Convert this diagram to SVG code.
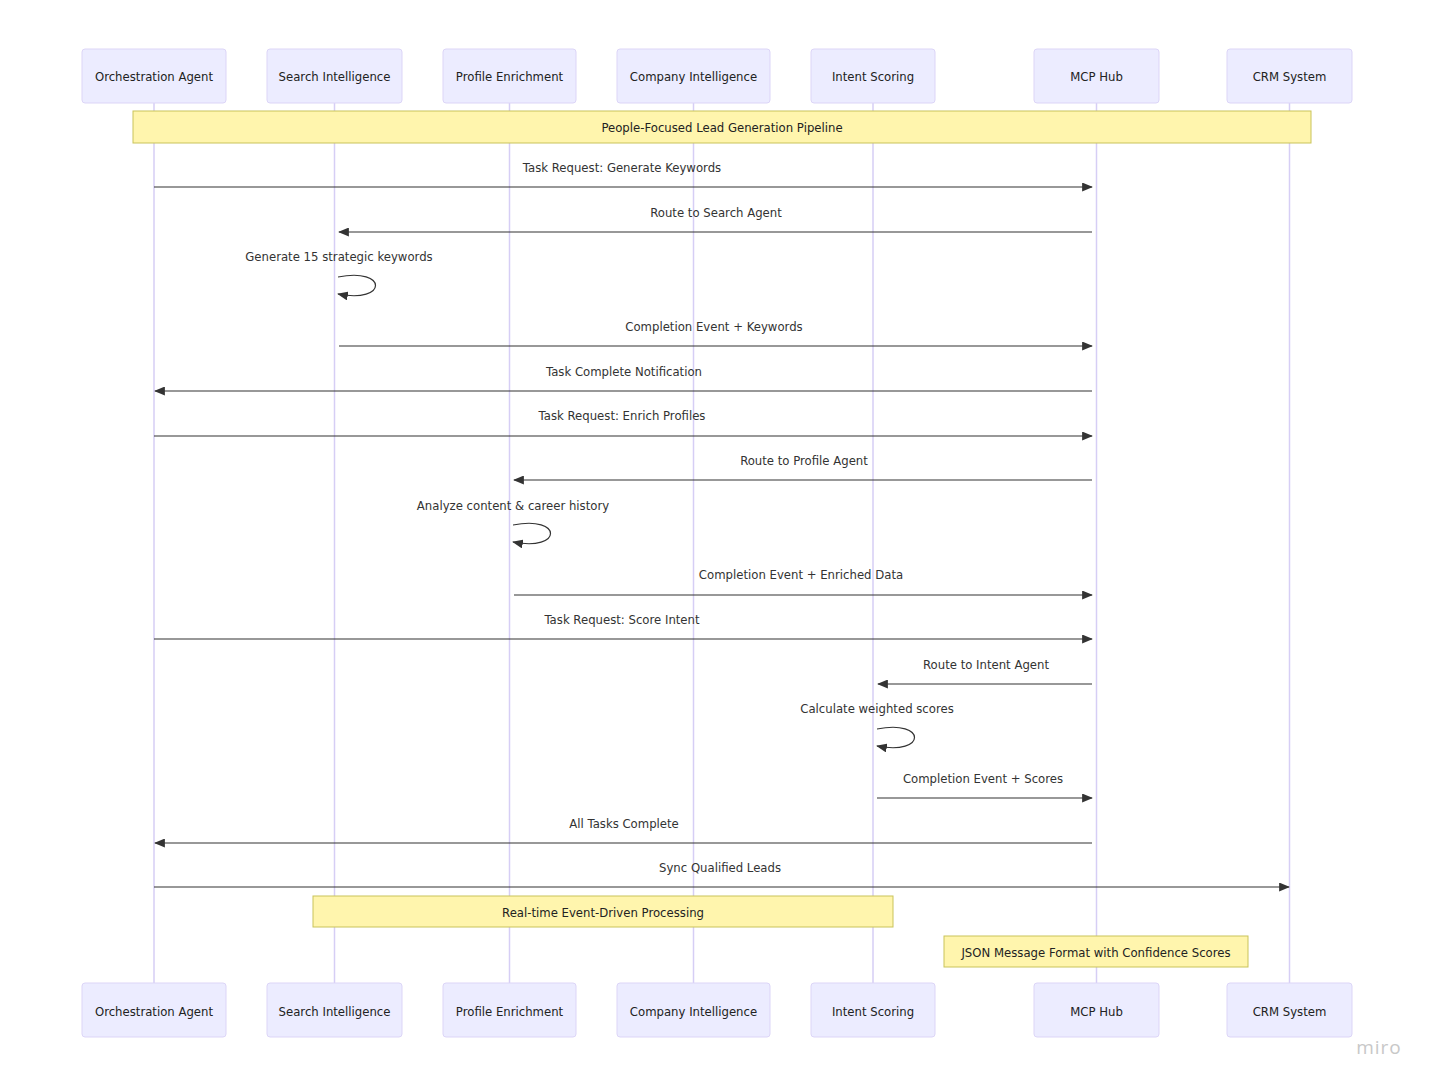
<svg xmlns="http://www.w3.org/2000/svg" width="1435" height="1088" viewBox="0 0 1435 1088">
<style>
.actor{fill:#ECECFF;stroke:#DCD5F7;stroke-width:1}
.life{stroke:#D6CEF5;stroke-width:1.5}
.note{fill:#FFF5AD;stroke:#C9C35A;stroke-width:1}
text{font-family:"DejaVu Sans",Verdana,sans-serif;font-size:11.7px;fill:#333;text-anchor:middle}
.at{fill:#222}
.msg{stroke:#333;stroke-width:1.2;fill:none}
</style>
<defs>
<marker id="ah" viewBox="0 0 12 10" refX="11" refY="5" markerWidth="11" markerHeight="9" markerUnits="userSpaceOnUse" orient="auto">
<path d="M0,0 L12,5 L0,10 z" fill="#333"/>
</marker>
</defs>
<rect width="1435" height="1088" fill="#fff"/>
<g id="lifelines">
<line class="life" x1="154" y1="103" x2="154" y2="983"/>
<line class="life" x1="334.5" y1="103" x2="334.5" y2="983"/>
<line class="life" x1="509.5" y1="103" x2="509.5" y2="983"/>
<line class="life" x1="693.5" y1="103" x2="693.5" y2="983"/>
<line class="life" x1="873" y1="103" x2="873" y2="983"/>
<line class="life" x1="1096.5" y1="103" x2="1096.5" y2="983"/>
<line class="life" x1="1289.5" y1="103" x2="1289.5" y2="983"/>
</g>
<g id="actor-orch"><rect class="actor" x="82" y="49" width="144" height="54" rx="3"/><text class="at" x="154" y="80.5">Orchestration Agent</text>
<rect class="actor" x="82" y="983" width="144" height="54" rx="3"/><text class="at" x="154" y="1015.5">Orchestration Agent</text></g>
<g id="actor-search"><rect class="actor" x="267" y="49" width="135" height="54" rx="3"/><text class="at" x="334.5" y="80.5">Search Intelligence</text>
<rect class="actor" x="267" y="983" width="135" height="54" rx="3"/><text class="at" x="334.5" y="1015.5">Search Intelligence</text></g>
<g id="actor-profile"><rect class="actor" x="443" y="49" width="133" height="54" rx="3"/><text class="at" x="509.5" y="80.5">Profile Enrichment</text>
<rect class="actor" x="443" y="983" width="133" height="54" rx="3"/><text class="at" x="509.5" y="1015.5">Profile Enrichment</text></g>
<g id="actor-company"><rect class="actor" x="617" y="49" width="153" height="54" rx="3"/><text class="at" x="693.5" y="80.5">Company Intelligence</text>
<rect class="actor" x="617" y="983" width="153" height="54" rx="3"/><text class="at" x="693.5" y="1015.5">Company Intelligence</text></g>
<g id="actor-intent"><rect class="actor" x="811" y="49" width="124" height="54" rx="3"/><text class="at" x="873" y="80.5">Intent Scoring</text>
<rect class="actor" x="811" y="983" width="124" height="54" rx="3"/><text class="at" x="873" y="1015.5">Intent Scoring</text></g>
<g id="actor-mcp"><rect class="actor" x="1034" y="49" width="125" height="54" rx="3"/><text class="at" x="1096.5" y="80.5">MCP Hub</text>
<rect class="actor" x="1034" y="983" width="125" height="54" rx="3"/><text class="at" x="1096.5" y="1015.5">MCP Hub</text></g>
<g id="actor-crm"><rect class="actor" x="1227" y="49" width="125" height="54" rx="3"/><text class="at" x="1289.5" y="80.5">CRM System</text>
<rect class="actor" x="1227" y="983" width="125" height="54" rx="3"/><text class="at" x="1289.5" y="1015.5">CRM System</text></g>
<g id="note-pipeline"><rect class="note" x="133" y="111" width="1178" height="32"/><text class="at" x="722" y="131.5">People-Focused Lead Generation Pipeline</text></g>
<g id="note-realtime"><rect class="note" x="313" y="896" width="580" height="31"/><text class="at" x="603" y="916.5">Real-time Event-Driven Processing</text></g>
<g id="note-json"><rect class="note" x="944" y="936" width="304" height="31"/><text class="at" x="1096" y="956.5">JSON Message Format with Confidence Scores</text></g>
<g id="connectors">
<line class="msg" x1="154" y1="187" x2="1092" y2="187" marker-end="url(#ah)"/>
<line class="msg" x1="1092" y1="232" x2="339" y2="232" marker-end="url(#ah)"/>
<path class="msg" d="M338,277 C388,267 388,304 338,294" marker-end="url(#ah)"/>
<line class="msg" x1="339" y1="346" x2="1092" y2="346" marker-end="url(#ah)"/>
<line class="msg" x1="1092" y1="391" x2="155" y2="391" marker-end="url(#ah)"/>
<line class="msg" x1="154" y1="436" x2="1092" y2="436" marker-end="url(#ah)"/>
<line class="msg" x1="1092" y1="480" x2="514" y2="480" marker-end="url(#ah)"/>
<path class="msg" d="M513,525 C563,515 563,552 513,542" marker-end="url(#ah)"/>
<line class="msg" x1="514" y1="595" x2="1092" y2="595" marker-end="url(#ah)"/>
<line class="msg" x1="154" y1="639" x2="1092" y2="639" marker-end="url(#ah)"/>
<line class="msg" x1="1092" y1="684" x2="878" y2="684" marker-end="url(#ah)"/>
<path class="msg" d="M877,729 C927,719 927,756 877,746" marker-end="url(#ah)"/>
<line class="msg" x1="877" y1="798" x2="1092" y2="798" marker-end="url(#ah)"/>
<line class="msg" x1="1092" y1="843" x2="155" y2="843" marker-end="url(#ah)"/>
<line class="msg" x1="154" y1="887" x2="1289" y2="887" marker-end="url(#ah)"/>
<text x="622" y="171.5">Task Request: Generate Keywords</text>
<text x="716" y="216.5">Route to Search Agent</text>
<text x="339" y="260.5">Generate 15 strategic keywords</text>
<text x="714" y="330.5">Completion Event + Keywords</text>
<text x="624" y="375.5">Task Complete Notification</text>
<text x="622" y="419.5">Task Request: Enrich Profiles</text>
<text x="804" y="464.5">Route to Profile Agent</text>
<text x="513" y="509.5">Analyze content &amp; career history</text>
<text x="801" y="578.5">Completion Event + Enriched Data</text>
<text x="622" y="623.5">Task Request: Score Intent</text>
<text x="986" y="668.5">Route to Intent Agent</text>
<text x="877" y="712.5">Calculate weighted scores</text>
<text x="983" y="782.5">Completion Event + Scores</text>
<text x="624" y="827.5">All Tasks Complete</text>
<text x="720" y="871.5">Sync Qualified Leads</text>
</g>
<text x="1379" y="1054" style="font-size:19px;fill:#c8c8c8;font-family:'Open Sans',sans-serif;letter-spacing:1px">miro</text>
</svg>
